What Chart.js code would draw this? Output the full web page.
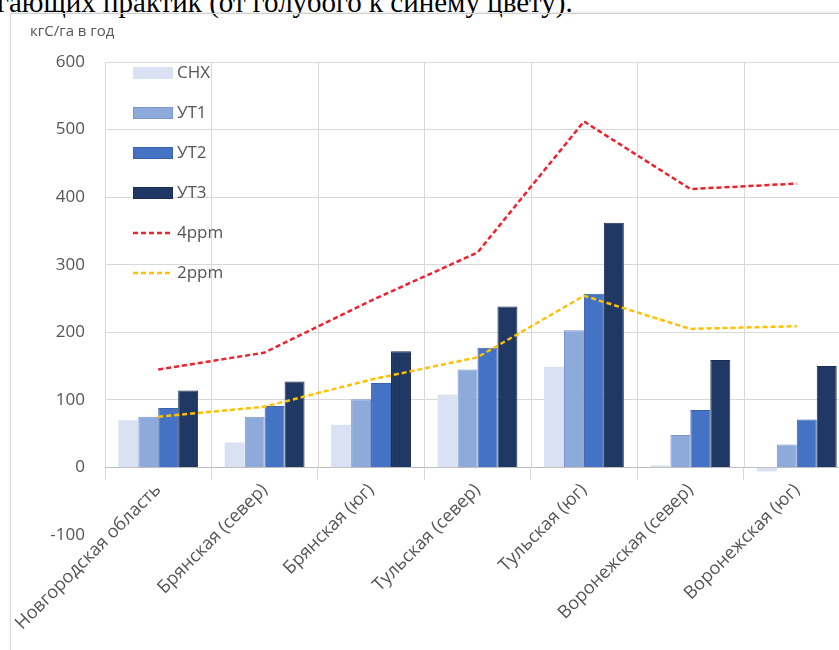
<!DOCTYPE html>
<html>
<head>
<meta charset="utf-8">
<script src="https://cdn.jsdelivr.net/npm/chart.js@4.4.1/dist/chart.umd.min.js"></script>
<style>
  html, body { margin: 0; padding: 0; background: #fff; overflow: hidden; width: 839px; height: 650px; position: relative; }
  #caption { position: absolute; left: -3px; top: -12px; font-family: "Liberation Serif", serif; font-size: 29px; line-height: 29px; white-space: nowrap; color: #000; }
  #frame { position: absolute; left: 10px; top: 13px; width: 900px; height: 700px; border-left: 1px solid #d9d9d9; border-top: 1px solid #d0d0d0; box-shadow: 0 -1px 2px rgba(0,0,0,0.10); }
  #chart { position: absolute; left: 0; top: 0; }
</style>
</head>
<body>
<div id="caption">гающих практик (от голубого к синему цвету).</div>
<div id="frame"></div>
<canvas id="chart" width="860" height="650"></canvas>
<script>
// Regions along the category axis
const regions = [
  'Новгородская область',
  'Брянская (север)',
  'Брянская (юг)',
  'Тульская (север)',
  'Тульская (юг)',
  'Воронежская (север)',
  'Воронежская (юг)'
];

// Sequestration, кгС/га в год
const snh = [70, 37, 63, 108, 149, 3, -6];
const ut1 = [75, 75, 101, 145, 203, 48, 34];
const ut2 = [88, 91, 125, 177, 257, 85, 71];
const ut3 = [114, 127, 172, 238, 362, 159, 150];
const ppm4 = [145, 170, 247, 318, 512, 412, 420];
const ppm2 = [75, 90, 130, 163, 254, 205, 209];

// Value axis ticks
const yTicks = [-100, 0, 100, 200, 300, 400, 500, 600];

const FONT = '"Open Sans", sans-serif';
const TEXT = '#555555';
const GRID = '#d9d9d9';

// Vertical separators between regions, running from the top down to the zero line
const columnLines = {
  id: 'columnLines',
  beforeDatasetsDraw(chart) {
    const { ctx, chartArea, scales: { x, y } } = chart;
    const y0 = y.getPixelForValue(0);
    const n = chart.data.labels.length;
    ctx.save();
    ctx.strokeStyle = GRID;
    ctx.lineWidth = 1;
    for (let i = 0; i <= n; i++) {
      let px;
      if (i === 0) px = x.left;
      else if (i === n) px = x.right;
      else px = (x.getPixelForValue(i - 1) + x.getPixelForValue(i)) / 2;
      const xx = Math.round(px) + 0.5;
      ctx.beginPath();
      ctx.moveTo(xx, chartArea.top);
      ctx.lineTo(xx, y0);
      ctx.stroke();
    }
    ctx.restore();
  }
};

// Series key stacked in the upper-left corner of the plot
const seriesKey = {
  id: 'seriesKey',
  afterDatasetsDraw(chart) {
    const { ctx, chartArea } = chart;
    const x0 = chartArea.left + 28;
    let yy = chartArea.top + 11;
    ctx.save();
    ctx.font = '17px ' + FONT;
    ctx.textBaseline = 'middle';
    ctx.textAlign = 'left';
    chart.data.datasets.forEach(ds => {
      if (ds.type === 'line') {
        ctx.strokeStyle = ds.borderColor;
        ctx.lineWidth = ds.borderWidth;
        ctx.setLineDash(ds.borderDash);
        ctx.beginPath();
        ctx.moveTo(x0, yy);
        ctx.lineTo(x0 + 40, yy);
        ctx.stroke();
        ctx.setLineDash([]);
      } else {
        ctx.fillStyle = ds.backgroundColor;
        ctx.fillRect(x0, yy - 6, 40, 12);
        if (ds.borderWidth) {
          ctx.strokeStyle = ds.borderColor;
          ctx.lineWidth = 1;
          ctx.strokeRect(x0 + 0.5, yy - 5.5, 39, 11);
        }
      }
      ctx.fillStyle = TEXT;
      ctx.fillText(ds.label, x0 + 44, yy);
      yy += 40;
    });
    ctx.restore();
  }
};

// Unit caption above the value axis
const unitCaption = {
  id: 'unitCaption',
  afterDraw(chart) {
    const { ctx } = chart;
    ctx.save();
    ctx.font = '15px ' + FONT;
    ctx.fillStyle = TEXT;
    ctx.textBaseline = 'middle';
    ctx.textAlign = 'left';
    ctx.fillText('кгС/га в год', 30, 32);
    ctx.restore();
  }
};

new Chart(document.getElementById('chart'), {
  type: 'bar',
  data: {
    labels: regions,
    datasets: [
      { label: 'СНХ', data: snh, backgroundColor: '#d9e1f2', borderWidth: 0, order: 2 },
      { label: 'УТ1', data: ut1, backgroundColor: '#8eaadb', borderColor: '#7a98cf', borderWidth: 1, order: 2 },
      { label: 'УТ2', data: ut2, backgroundColor: '#4472c4', borderColor: '#3a62ab', borderWidth: 1, order: 2 },
      { label: 'УТ3', data: ut3, backgroundColor: '#203864', borderColor: '#1a2e52', borderWidth: 1, order: 2 },
      { type: 'line', label: '4ppm', data: ppm4, borderColor: '#f0202c', borderWidth: 2.5, borderDash: [5, 3], pointRadius: 0, fill: false, tension: 0, order: 1 },
      { type: 'line', label: '2ppm', data: ppm2, borderColor: '#ffc000', borderWidth: 2.5, borderDash: [5, 3], pointRadius: 0, fill: false, tension: 0, order: 1 }
    ]
  },
  options: {
    responsive: false,
    animation: false,
    layout: { padding: { left: 0, top: 62, right: 10, bottom: 115 } },
    datasets: { bar: { categoryPercentage: 0.75, barPercentage: 1 } },
    plugins: { legend: { display: false }, tooltip: { enabled: false } },
    scales: {
      x: {
        position: { y: 0 },
        offset: true,
        grid: { drawOnChartArea: false, offset: true, tickLength: 12, color: GRID },
        border: { color: '#bfbfbf' },
        ticks: { autoSkip: false, minRotation: 45, maxRotation: 45, color: TEXT, font: { family: FONT, size: 18 }, padding: 0 },
        afterFit(s) { s.paddingLeft = 0; s.paddingRight = 0; }
      },
      y: {
        min: yTicks[0],
        max: yTicks[yTicks.length - 1],
        afterBuildTicks(s) { s.ticks = yTicks.map(v => ({ value: v })); },
        ticks: { color: TEXT, font: { family: FONT, size: 17 }, padding: 20 },
        grid: { drawTicks: false, color: c => (c.tick && c.tick.value < 0 ? 'rgba(0,0,0,0)' : GRID) },
        border: { display: false },
        afterFit(s) { s.width = 105; }
      }
    }
  },
  plugins: [columnLines, seriesKey, unitCaption]
});
</script>
</body>
</html>
